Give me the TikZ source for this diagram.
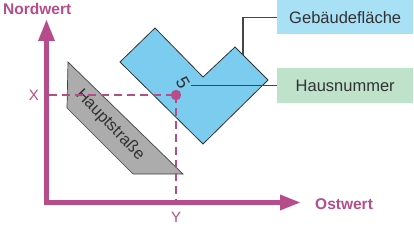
\documentclass[tikz,border=0pt]{standalone}
\usepackage{fontspec}
\setmainfont{Liberation Sans}
\definecolor{mag}{RGB}{182,76,138}
\definecolor{bldg}{RGB}{124,204,240}
\definecolor{bluebox}{RGB}{168,224,246}
\definecolor{greenbox}{RGB}{190,226,202}
\definecolor{road}{RGB}{172,172,172}
\definecolor{txt}{RGB}{50,50,50}
\definecolor{lead}{RGB}{70,70,70}
\begin{document}
\begin{tikzpicture}[x=1pt,y=-1pt,
  axlabel/.style={text=mag,font=\fontsize{15.5}{17}\selectfont\bfseries,inner sep=0pt},
  ticklabel/.style={text=mag,font=\fontsize{15}{17}\selectfont,inner sep=0pt},
  callout/.style={minimum width=136pt,minimum height=34pt,inner sep=0pt,text=txt,font=\fontsize{16.5}{18}\selectfont,anchor=west},
  dashline/.style={draw=mag,line width=2.5pt,dash pattern=on 8pt off 5pt},
  leader/.style={draw=lead,line width=1.1pt}]
\useasboundingbox (0,0) rectangle (414,227);
% road
\fill[road,draw=black!75,line width=0.7pt] (68,62) -- (183,174) -- (133,174) -- (67,108) -- cycle;
\node[text=txt,font=\fontsize{16.5}{18}\selectfont,rotate=-46,inner sep=0pt] (street) at (110,125) {Hauptstraße};
% building
\fill[bldg,draw=black!80,line width=0.8pt] (155,28) -- (203,77) -- (235,47) -- (268,80) -- (203,144) -- (120,62) -- cycle;
% callout boxes
\node[callout,fill=bluebox] (geb) at (277,17.5) {Gebäudefläche};
\node[callout,fill=greenbox] (haus) at (277,85.5) {Hausnummer};
\node[text=txt,font=\fontsize{18}{20}\selectfont,rotate=-60,inner sep=0pt] (num) at (183,83) {5};
\coordinate (gebend) at (243,55);
\draw[leader] (geb.west) -| (gebend);
\draw[leader] (haus.west) -- (191,85.5);
% dashed lines
\coordinate (pt) at (176,95);
\coordinate (xax) at (49,95);
\coordinate (yax) at (176,201);
\draw[dashline] (xax) -- (pt);
\draw[dashline] (pt) -- (yax);
\fill[mag] (pt) circle (5.2pt);
% axes
\coordinate (ytip) at (46.5,20);
\coordinate (corner) at (46.5,202.5);
\coordinate (xtip) at (300,202.5);
\draw[mag,line width=5pt,line join=miter,line cap=rect] (46.5,40) -- (corner) -- (281,202.5);
\fill[mag] (ytip) -- (38,41) -- (55,41) -- cycle;
\fill[mag] (xtip) -- (280,194.5) -- (280,210.5) -- cycle;
\node[axlabel,anchor=west] (nord) at (3,8.5) {Nordwert};
\node[axlabel,anchor=west] (ost) at (315,204) {Ostwert};
\node[ticklabel] (xl) at (34,95) {X};
\node[ticklabel] (yl) at (176,217) {Y};
\end{tikzpicture}
\end{document}
